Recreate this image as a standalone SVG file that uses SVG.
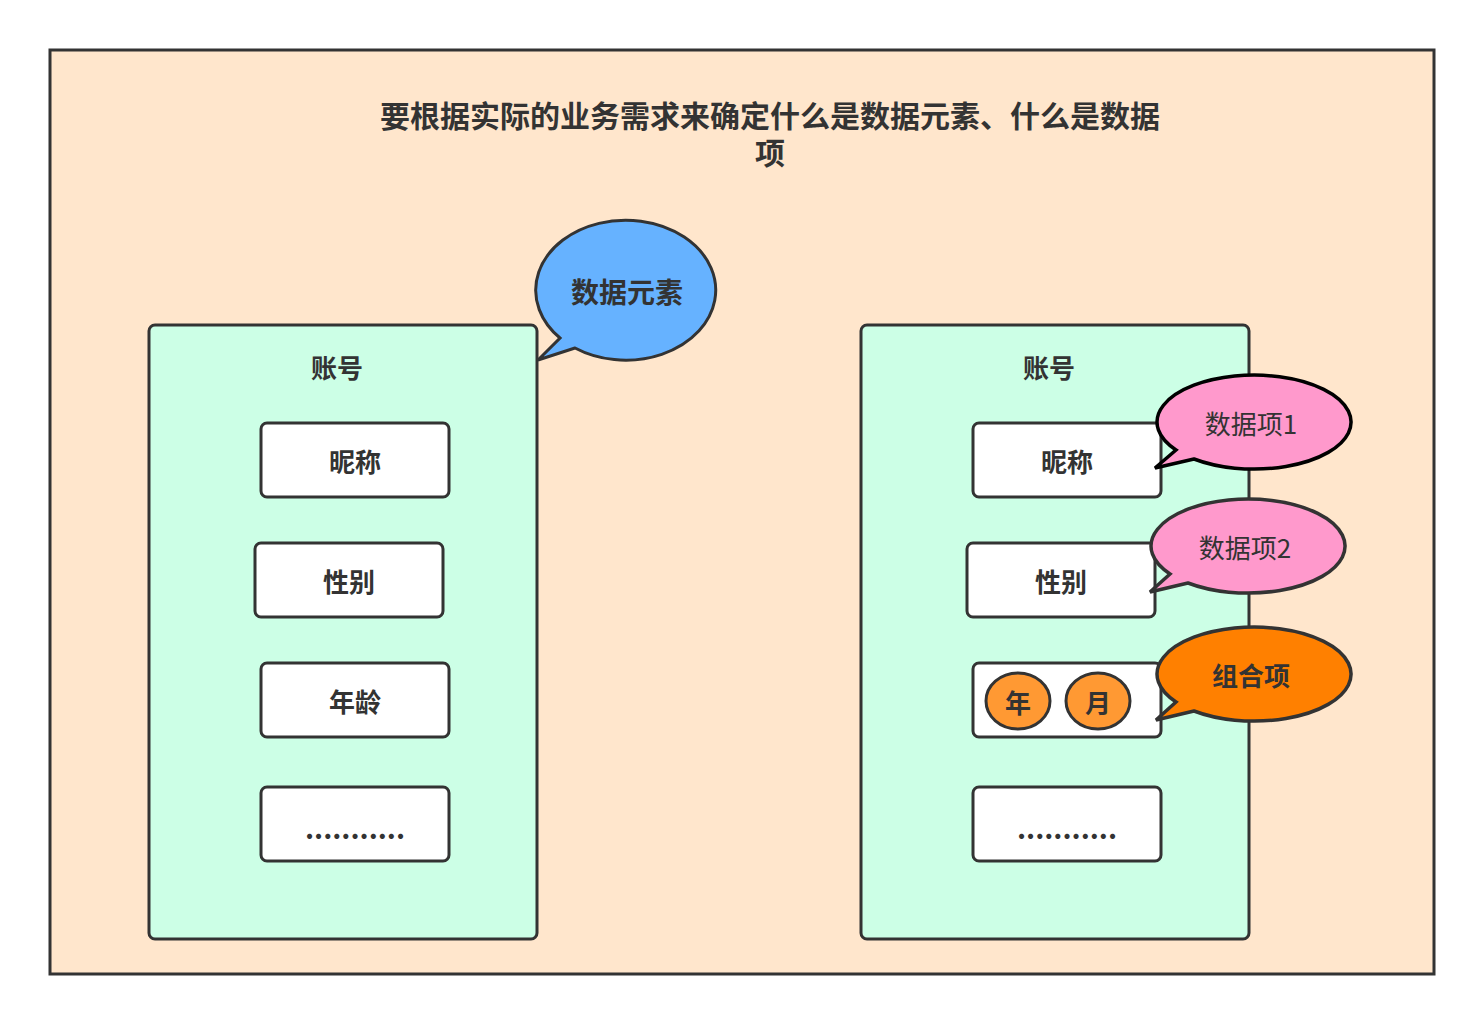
<svg xmlns="http://www.w3.org/2000/svg" width="1484" height="1026" viewBox="0 0 1484 1026">
<style>
text{font-family:"Noto Sans CJK SC","Noto Sans",sans-serif;fill:#333;text-anchor:middle;dominant-baseline:central}
.b{font-weight:bold}
.box{fill:#fff;stroke:#333;stroke-width:3}
.cont{fill:#CCFFE6;stroke:#333;stroke-width:3}
</style>
<rect x="0" y="0" width="1484" height="1026" fill="#fff"/>
<g id="frame">
<rect x="50" y="50" width="1384" height="924" fill="#FFE6CC" stroke="#333" stroke-width="3"/>
<text class="b" x="770" y="114" font-size="30">要根据实际的业务需求来确定什么是数据元素、什么是数据</text>
<text class="b" x="770" y="151" font-size="30">项</text>
</g>
<g id="left-account">
<rect class="cont" x="149" y="325" width="388" height="614" rx="6"/>
<text class="b" x="337" y="366" font-size="26">账号</text>
</g>
<g id="left-nick"><rect class="box" x="261" y="423" width="188" height="74" rx="6"/><text class="b" x="355" y="460" font-size="26">昵称</text></g>
<g id="left-gender"><rect class="box" x="255" y="543" width="188" height="74" rx="6"/><text class="b" x="349" y="580" font-size="26">性别</text></g>
<g id="left-age"><rect class="box" x="261" y="663" width="188" height="74" rx="6"/><text class="b" x="355" y="700" font-size="26">年龄</text></g>
<g id="left-more"><rect class="box" x="261" y="787" width="188" height="74" rx="6"/><text class="b" x="355" y="827" font-size="28">...........</text></g>
<g id="right-account">
<rect class="cont" x="861" y="325" width="388" height="614" rx="6"/>
<text class="b" x="1049" y="366" font-size="26">账号</text>
</g>
<g id="right-nick"><rect class="box" x="973" y="423" width="188" height="74" rx="6"/><text class="b" x="1067" y="460" font-size="26">昵称</text></g>
<g id="right-gender"><rect class="box" x="967" y="543" width="188" height="74" rx="6"/><text class="b" x="1061" y="580" font-size="26">性别</text></g>
<g id="right-date"><rect class="box" x="973" y="663" width="188" height="74" rx="6"/>
<ellipse cx="1018" cy="701" rx="32" ry="28" fill="#FF9933" stroke="#333" stroke-width="3"/>
<text class="b" x="1018" y="701" font-size="26">年</text>
<ellipse cx="1098" cy="701" rx="32" ry="28" fill="#FF9933" stroke="#333" stroke-width="3"/>
<text class="b" x="1098" y="701" font-size="26">月</text>
</g>
<g id="right-more"><rect class="box" x="973" y="787" width="188" height="74" rx="6"/><text class="b" x="1067" y="827" font-size="28">...........</text></g>
<g id="connectors"></g>
<g id="bubble-element">
<path d="M575,348 L538,360 L560,338 A90 70 0 1 1 575,348 Z" fill="#66B2FF" stroke="#333" stroke-width="3" stroke-linejoin="miter"/>
<text class="b" x="627" y="291" font-size="28">数据元素</text>
</g>
<g id="bubble-item1">
<path d="M1194,459 L1155,468 L1176,450 A97 47 0 1 1 1194,459 Z" fill="#FF99CC" stroke="#000" stroke-width="3.5"/>
<text x="1251" y="422" font-size="26">数据项1</text>
</g>
<g id="bubble-item2">
<path d="M1188,583 L1150,592 L1170,574 A97 47 0 1 1 1188,583 Z" fill="#FF99CC" stroke="#333" stroke-width="3.5"/>
<text x="1245" y="546" font-size="26">数据项2</text>
</g>
<g id="bubble-combo">
<path d="M1194,711 L1156,720 L1176,702 A97 47 0 1 1 1194,711 Z" fill="#FF8000" stroke="#333" stroke-width="3.5"/>
<text class="b" x="1251" y="674" font-size="26">组合项</text>
</g>
</svg>
